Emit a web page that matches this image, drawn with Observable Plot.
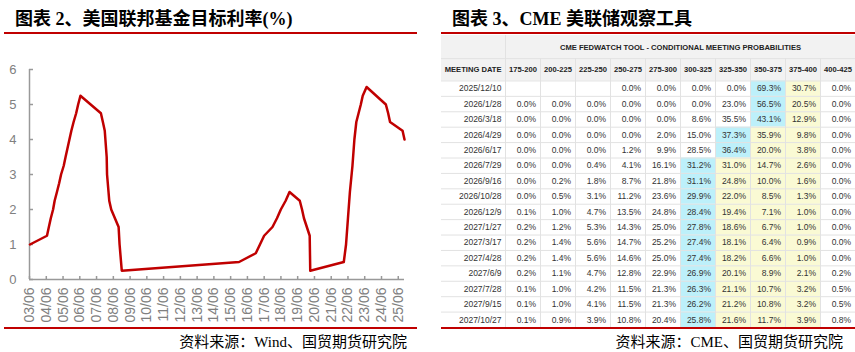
<!DOCTYPE html>
<html><head><meta charset="utf-8">
<script src="https://cdn.jsdelivr.net/npm/d3@7"></script>
<script src="https://cdn.jsdelivr.net/npm/@observablehq/plot@0.6"></script>
<style>
body{margin:0;background:#fff;width:855px;height:352px;position:relative;overflow:hidden;}
.title{position:absolute;top:9px;font-family:"Liberation Serif","Noto Sans CJK SC",serif;font-weight:bold;font-size:18px;line-height:20px;color:#000;white-space:nowrap;}
.rule{position:absolute;height:2px;background:#C00000;}
.source{position:absolute;top:334px;font-family:"Liberation Serif","Noto Sans CJK SC",serif;font-size:15px;line-height:17px;color:#000;white-space:nowrap;}
#chart{position:absolute;left:0;top:50px;}
#table{position:absolute;left:441px;top:35px;}
</style></head><body>
<div class="title" style="left:15px">图表 2、美国联邦基金目标利率(%)</div>
<div class="rule" style="left:4px;width:413px;top:32px"></div>
<div class="title" style="left:452px">图表 3、CME 美联储观察工具</div>
<div class="rule" style="left:441px;width:414px;top:32px"></div>
<div id="chart"></div>
<div id="table"></div>
<div class="rule" style="left:4px;width:413px;top:327px"></div>
<div class="rule" style="left:441px;width:414px;top:327px"></div>
<div class="source" style="right:448px">资料来源：Wind、国贸期货研究院</div>
<div class="source" style="right:12px">资料来源：CME、国贸期货研究院</div>
<script>
// ---------- Chart 2: Fed funds target rate (upper bound) ----------
const changeDates = ["2003-06-25","2004-06-30","2004-08-10","2004-09-21","2004-11-10","2004-12-14","2005-02-02","2005-03-22","2005-05-03","2005-06-30","2005-08-09","2005-09-20","2005-11-01","2005-12-13","2006-01-31","2006-03-28","2006-05-10","2006-06-29","2007-09-18","2007-10-31","2007-12-11","2008-01-22","2008-01-30","2008-03-18","2008-04-30","2008-10-08","2008-10-29","2008-12-16","2015-12-16","2016-12-14","2017-03-15","2017-06-14","2017-12-13","2018-03-21","2018-06-13","2018-09-26","2018-12-19","2019-07-31","2019-09-18","2019-10-30","2020-03-03","2020-03-15","2022-03-16","2022-05-04","2022-06-15","2022-07-27","2022-09-21","2022-11-02","2022-12-14","2023-02-01","2023-03-22","2023-05-03","2023-07-26","2024-09-18","2024-11-07","2024-12-18","2025-09-17","2025-10-29"];
const targetRates = [1.00,1.25,1.50,1.75,2.00,2.25,2.50,2.75,3.00,3.25,3.50,3.75,4.00,4.25,4.50,4.75,5.00,5.25,4.75,4.50,4.25,3.50,3.00,2.25,2.00,1.50,1.00,0.25,0.50,0.75,1.00,1.25,1.50,1.75,2.00,2.25,2.50,2.25,2.00,1.75,1.25,0.25,0.50,1.00,1.75,2.50,3.25,4.00,4.50,4.75,5.00,5.25,5.50,5.00,4.75,4.50,4.25,4.00];
const yTicks = [0,1,2,3,4,5,6];
const tickYears = d3.range(2003, 2026);

const rateData = changeDates.map((d, i) => ({date: new Date(d), rate: targetRates[i]}));
const xTicks = tickYears.map(y => new Date(Date.UTC(y, 5, 15)));
const xStart = new Date("2003-06-15"), xEnd = new Date("2025-10-29");

const chart = Plot.plot({
  width: 420, height: 278,
  marginLeft: 29, marginRight: 16, marginTop: 19, marginBottom: 49,
  style: {fontFamily: "Liberation Sans, Arial, sans-serif", background: "transparent", overflow: "visible"},
  x: {type: "utc", domain: [xStart, xEnd]},
  y: {domain: [0, 6]},
  marks: [
    Plot.axisY(yTicks, {tickSize: 0, tickPadding: 13, fill: "#808080", fontSize: 13, label: null}),
    Plot.axisY(yTicks, {tickSize: -4, tickFormat: () => "", stroke: "#999", strokeWidth: 1.5, label: null}),
    Plot.axisX(xTicks, {tickSize: 0, tickPadding: 8, tickRotate: -90, tickFormat: d3.utcFormat("%y/%m"), fill: "#808080", fontSize: 14, label: null}),
    Plot.axisX(xTicks, {tickSize: -3, tickFormat: () => "", stroke: "#999", strokeWidth: 1.5, label: null}),
    Plot.ruleY([0], {stroke: "#999", strokeWidth: 1.5}),
    Plot.ruleX([xStart], {stroke: "#999", strokeWidth: 1.5}),
    Plot.line(rateData, {x: "date", y: "rate", stroke: "#C00000", strokeWidth: 2.5, strokeLinejoin: "round"})
  ]
});
document.getElementById("chart").appendChild(chart);

// ---------- Chart 3: CME FedWatch table ----------
const tableTitle = "CME FEDWATCH TOOL - CONDITIONAL MEETING PROBABILITIES";
const dateHeader = "MEETING DATE";
const rateRanges = ["175-200","200-225","225-250","250-275","275-300","300-325","325-350","350-375","375-400","400-425"];
const currentRange = "375-400";
const meetingDates = ["2025/12/10","2026/1/28","2026/3/18","2026/4/29","2026/6/17","2026/7/29","2026/9/16","2026/10/28","2026/12/9","2027/1/27","2027/3/17","2027/4/28","2027/6/9","2027/7/28","2027/9/15","2027/10/27"];
const probabilities = [
  [null,null,null,0.0,0.0,0.0,0.0,69.3,30.7,0.0],
  [0.0,0.0,0.0,0.0,0.0,0.0,23.0,56.5,20.5,0.0],
  [0.0,0.0,0.0,0.0,0.0,8.6,35.5,43.1,12.9,0.0],
  [0.0,0.0,0.0,0.0,2.0,15.0,37.3,35.9,9.8,0.0],
  [0.0,0.0,0.0,1.2,9.9,28.5,36.4,20.0,3.8,0.0],
  [0.0,0.0,0.4,4.1,16.1,31.2,31.0,14.7,2.6,0.0],
  [0.0,0.2,1.8,8.7,21.8,31.1,24.8,10.0,1.6,0.0],
  [0.0,0.5,3.1,11.2,23.6,29.9,22.0,8.5,1.3,0.0],
  [0.1,1.0,4.7,13.5,24.8,28.4,19.4,7.1,1.0,0.0],
  [0.2,1.2,5.3,14.3,25.0,27.8,18.6,6.7,1.0,0.0],
  [0.2,1.4,5.6,14.7,25.2,27.4,18.1,6.4,0.9,0.0],
  [0.2,1.4,5.6,14.6,25.0,27.4,18.2,6.6,1.0,0.0],
  [0.2,1.1,4.7,12.8,22.9,26.9,20.1,8.9,2.1,0.2],
  [0.1,1.0,4.2,11.5,21.3,26.3,21.1,10.7,3.2,0.5],
  [0.1,1.0,4.1,11.5,21.3,26.2,21.2,10.8,3.2,0.5],
  [0.1,0.9,3.9,10.8,20.4,25.8,21.6,11.7,3.9,0.8]
];

const curIdx = rateRanges.indexOf(currentRange);
const cells = [];
probabilities.forEach((row, r) => {
  const vals = row.map(v => v == null ? -1 : v);
  const maxIdx = vals.indexOf(Math.max(...vals));
  row.forEach((v, c) => {
    const kind = c === maxIdx ? "peak" : (c > maxIdx && c <= curIdx ? "path" : "none");
    cells.push({r, c, v, kind});
  });
});
const dateRows = meetingDates.map((d, r) => ({r, d}));
const headerCols = rateRanges.map((h, c) => ({c, h}));

const dateW = 64 / 35;          // date column width in column units
const hTop = -2.95, hMid = -1.45; // header row boundaries in row units
const nRows = meetingDates.length;

const table = Plot.plot({
  width: 414, height: 292,
  margin: 0,
  style: {fontFamily: "Liberation Sans, Arial, sans-serif", background: "transparent"},
  x: {type: "linear", domain: [-dateW, rateRanges.length], range: [0, 414], axis: null},
  y: {type: "linear", domain: [hTop, nRows], range: [0, 292], axis: null},
  marks: [
    Plot.rect([0], {x1: -dateW, x2: rateRanges.length, y1: hTop, y2: 0, fill: "#f2f2f2"}),
    Plot.rect(cells.filter(d => d.kind !== "none"), {
      x1: d => d.c, x2: d => d.c + 1, y1: d => d.r, y2: d => d.r + 1,
      fill: d => d.kind === "peak" ? "#bdf0fa" : "#fafad4"
    }),
    Plot.ruleY([hMid, ...d3.range(0, nRows)], {x1: -dateW, x2: rateRanges.length, stroke: "#e2e2e2"}),
    Plot.ruleX([0], {y1: hTop, y2: nRows, stroke: "#e2e2e2"}),
    Plot.ruleX(d3.range(1, rateRanges.length), {y1: hMid, y2: nRows, stroke: "#e2e2e2"}),
    Plot.text([tableTitle], {x: rateRanges.length / 2, y: (hTop + hMid) / 2 + 0.05, text: d => d, fontWeight: "bold", fontSize: 7.6, fill: "#222"}),
    Plot.text([dateHeader], {x: 0, dx: -4, y: hMid / 2, text: d => d, textAnchor: "end", fontWeight: "bold", fontSize: 7.6, fill: "#222"}),
    Plot.text(headerCols, {x: d => d.c + 0.5, y: hMid / 2, text: "h", fontWeight: "bold", fontSize: 7.6, fill: "#222"}),
    Plot.text(dateRows, {x: 0, dx: -4, y: d => d.r + 0.5, text: "d", textAnchor: "end", fontSize: 8.5, fill: "#333"}),
    Plot.text(cells.filter(d => d.v != null), {x: d => d.c + 1, dx: -4.5, y: d => d.r + 0.5, text: d => d.v.toFixed(1) + "%", textAnchor: "end", fontSize: 8.5, fill: "#333"})
  ]
});
document.getElementById("table").appendChild(table);
</script>
</body></html>
